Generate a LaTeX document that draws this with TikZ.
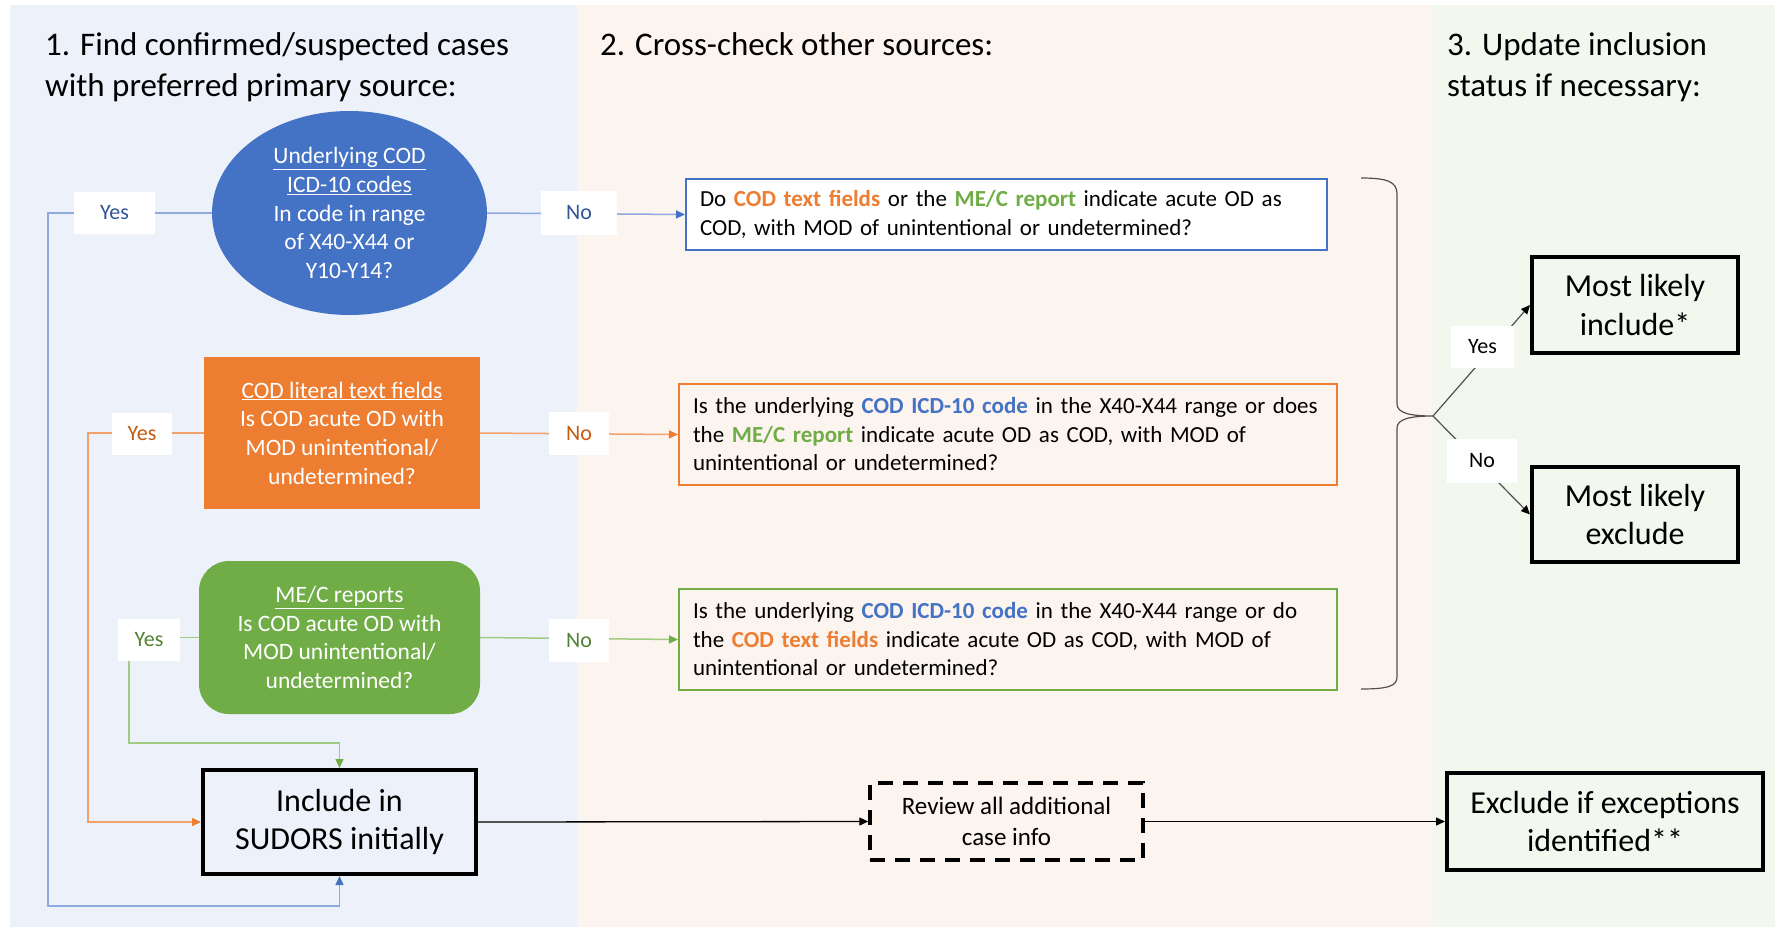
\documentclass[tikz,border=0pt]{standalone}
\usepackage{fontspec}
\setmainfont{Carlito}
\usetikzlibrary{arrows.meta,shapes.geometric}
\definecolor{bpanel}{RGB}{237,241,249}
\definecolor{opanel}{RGB}{252,244,239}
\definecolor{gpanel}{RGB}{243,248,239}
\definecolor{cblue}{RGB}{68,114,196}
\definecolor{corange}{RGB}{237,125,49}
\definecolor{cgreen}{RGB}{112,173,71}
\definecolor{lblue}{RGB}{47,85,151}
\definecolor{lorange}{RGB}{197,90,17}
\definecolor{lgreen}{RGB}{84,130,53}
\definecolor{blinec}{RGB}{143,170,220}
\definecolor{olinec}{RGB}{244,160,106}
\definecolor{glinec}{RGB}{160,204,130}
\definecolor{bracec}{RGB}{80,80,80}
\newcommand{\hdfont}{\fontsize{33}{41}\selectfont}
\newcommand{\shfont}{\fontsize{23.5}{28.7}\selectfont}
\newcommand{\qsfont}{\fontsize{23}{28.5}\selectfont}
\newcommand{\lbfont}{\fontsize{22}{26}\selectfont}
\newcommand{\bgfont}{\fontsize{32}{38.5}\selectfont}
\newcommand{\rvfont}{\fontsize{25}{31}\selectfont}
\newcommand{\ob}[1]{\textcolor{corange}{\textbf{#1}}}
\newcommand{\gb}[1]{\textcolor{cgreen}{\textbf{#1}}}
\newcommand{\bb}[1]{\textcolor{cblue}{\textbf{#1}}}
\begin{document}
\begin{tikzpicture}[x=1pt,y=-1pt,
  hdr/.style={anchor=north west, inner sep=0pt, align=left, font=\hdfont},
  lbl/.style={fill=white, inner sep=0pt, font=\lbfont},
  qbox/.style={draw, line width=2pt, anchor=north west, align=left, inner xsep=14pt, inner ysep=0pt, font=\qsfont, text=black},
  bigbox/.style={draw=black, line width=4pt, align=center, inner sep=0pt, font=\bgfont},
  bline/.style={draw=blinec, line width=1.5pt, -{Triangle[length=9pt,width=8pt,color=cblue]}},
  oline/.style={draw=olinec, line width=1.5pt, -{Triangle[length=9pt,width=8pt,color=corange]}},
  gline/.style={draw=glinec, line width=1.5pt, -{Triangle[length=9pt,width=8pt,color=cgreen]}},
  kline/.style={draw=black, line width=1.3pt, -{Triangle[length=9pt,width=8pt]}}
]
\useasboundingbox (0,0) rectangle (1775,927);
\fill[white] (0,0) rectangle (1775,927);
\fill[bpanel] (10,5) rectangle (577,927);
\fill[opanel] (577,5) rectangle (1431,927);
\fill[gpanel] (1431,5) rectangle (1775,927);

% headers
\node[hdr] (h1) at (45,32) {1. Find confirmed/suspected cases\\with preferred primary source:};
\node[hdr] (h2) at (600,32) {2. Cross-check other sources:};
\node[hdr] (h3) at (1447,32) {3. Update inclusion\\status if necessary:};

% primary sources
\node[ellipse, fill=cblue, minimum width=275pt, minimum height=204pt, inner sep=0pt,
      align=center, text=white, font=\shfont] (ell) at (349.5,213)
  {\underline{Underlying COD}\\\underline{ICD-10 codes}\\In code in range\\of X40-X44 or\\Y10-Y14?};
\node[fill=corange, minimum width=276pt, minimum height=152pt, inner sep=0pt,
      align=center, text=white, font=\shfont] (obox) at (342,433)
  {\underline{COD literal text fields}\\Is COD acute OD with\\MOD unintentional/\\undetermined?};
\node[fill=cgreen, rounded corners=30pt, minimum width=281pt, minimum height=153pt, inner sep=0pt,
      align=center, text=white, font=\shfont] (gbox) at (339.5,637.5)
  {\underline{ME/C reports}\\Is COD acute OD with\\MOD unintentional/\\undetermined?};

\node[bigbox, fill=bpanel, minimum width=273pt, minimum height=104pt] (inc) at (339.5,822)
  {Include in\\SUDORS initially};

% cross-check boxes
\node[qbox, draw=cblue, fill=white!0, minimum width=641pt, minimum height=71pt, text width=613pt] (q1) at (685,178)
  {\mbox{Do \ob{COD text fields} or the \gb{ME/C report} indicate acute OD as}\\
   \mbox{COD, with MOD of unintentional or undetermined?}};
\node[qbox, draw=corange, minimum width=658pt, minimum height=101pt, text width=630pt] (q2) at (678,383)
  {\mbox{Is the underlying \bb{COD ICD-10 code} in the X40-X44 range or does}\\
   \mbox{the \gb{ME/C report} indicate acute OD as COD, with MOD of}\\
   \mbox{unintentional or undetermined?}};
\node[qbox, draw=cgreen, minimum width=658pt, minimum height=101pt, text width=630pt] (q3) at (678,588)
  {\mbox{Is the underlying \bb{COD ICD-10 code} in the X40-X44 range or do}\\
   \mbox{the \ob{COD text fields} indicate acute OD as COD, with MOD of}\\
   \mbox{unintentional or undetermined?}};

\node[draw=black, line width=3.5pt, dash pattern=on 15pt off 10pt, minimum width=273pt, minimum height=77pt,
      inner sep=0pt, align=center, font=\rvfont] (rev) at (1006.5,821.5)
  {Review all additional\\case info};
\node[bigbox, minimum width=316pt, minimum height=97pt] (exc) at (1605,821.5)
  {Exclude if exceptions\\identified**};

% outcomes
\node[bigbox, minimum width=206pt, minimum height=96pt] (mli) at (1635,305)
  {Most likely\\include*};
\node[bigbox, minimum width=206pt, minimum height=95pt] (mle) at (1635,514.5)
  {Most likely\\exclude};

% connector corners
\coordinate (bc1) at (48,213);
\coordinate (bc2) at (48,906);
\coordinate (oc1) at (88,433);
\coordinate (gc1) at (129,637.5);
\coordinate (gc2) at (129,743);

% connectors
\draw[bline] (ell.west) -- (bc1) -- (bc2) -| (inc.south);
\draw[bline] (ell.east) -- (q1.west);
\draw[oline] (obox.west) -- (oc1) |- (inc.west);
\draw[oline] (obox.east) -- (q2.west);
\draw[gline] (gbox.west) -- (gc1) -- (gc2) -| (inc.north);
\draw[gline] (gbox.east) -- (q3.west);
\draw[kline] (inc.east) -- (rev.west);
\draw[kline] (rev.east) -- (exc.west);

% brace
\coordinate (btop) at (1361,178);
\coordinate (bbot) at (1361,689);
\coordinate (btip) at (1433,416);
\draw[bracec, line width=1.2pt] (btop) .. controls (1388,178) and (1397,182) .. (1397,194)
  -- (1397,404) .. controls (1397,413) and (1410,416) .. (btip)
  .. controls (1410,416) and (1397,419) .. (1397,428)
  -- (1397,677) .. controls (1397,686) and (1388,689) .. (bbot);
\draw[bracec, line width=1.2pt, -{Triangle[length=9pt,width=8pt,color=black]}] (btip) -- (mli.west);
\draw[bracec, line width=1.2pt, -{Triangle[length=9pt,width=8pt,color=black]}] (btip) -- (mle.west);

% labels
\node[lbl, text=lblue, minimum width=81pt, minimum height=42pt] (yb) at (114.5,213) {Yes};
\node[lbl, text=lblue, minimum width=76pt, minimum height=44pt] (nb) at (579,213) {No};
\node[lbl, text=lorange, minimum width=60pt, minimum height=42pt] (yo) at (142,434) {Yes};
\node[lbl, text=lorange, minimum width=60pt, minimum height=43pt] (no) at (579,433.5) {No};
\node[lbl, text=lgreen, minimum width=62pt, minimum height=42pt] (yg) at (149,640) {Yes};
\node[lbl, text=lgreen, minimum width=60pt, minimum height=43pt] (ng) at (579,640.5) {No};
\node[lbl, text=black, minimum width=63pt, minimum height=42pt] (yr) at (1482.5,347) {Yes};
\node[lbl, text=black, minimum width=70pt, minimum height=44pt] (nr) at (1482,461) {No};
\end{tikzpicture}
\end{document}
